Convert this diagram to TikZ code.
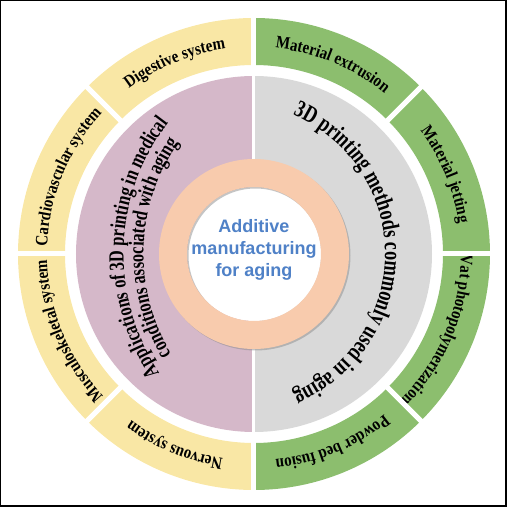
\documentclass[tikz,border=0pt]{standalone}
\usepackage{fontspec}
\setmainfont{Liberation Serif}
\setsansfont{Liberation Sans}
\newfontfamily\ringfont[FakeStretch=0.86]{Liberation Serif}
\newfontfamily\archfont[FakeStretch=0.76]{Liberation Serif}
\usetikzlibrary{decorations.text}
\definecolor{segyellow}{RGB}{249,231,165}
\definecolor{seggreen}{RGB}{140,190,110}
\definecolor{halfpurple}{RGB}{213,184,201}
\definecolor{halfgray}{RGB}{217,217,217}
\definecolor{ringorange}{RGB}{248,203,173}
\definecolor{titleblue}{RGB}{79,129,199}
\tikzset{
    curved/.style={decorate,decoration={text along path,text align=center,text={#1}}},
    title/.style={align=center,text=titleblue,font=\sffamily\bfseries\fontsize{18}{22}\selectfont}
}
\newcommand\segment[4]{
    \fill[#3] (#1:189) arc[start angle=#1,end angle=#2,radius=189]
        -- (#2:236) arc[start angle=#2,end angle=#1,radius=236] -- cycle;
    \path[curved={|\ringfont\bfseries\fontsize{17.5}{17.5}\selectfont|#4}]
        (#1:207) arc[start angle=#1,end angle=#2,radius=207];
}

\begin{document}
\begin{tikzpicture}[x=1pt,y=1pt]
    \useasboundingbox (-254,-254) rectangle (255,254);
    \draw[line width=1.2pt] (-253.4,253.4) rectangle (252,-252);

    \segment{135}{90}{segyellow}{Digestive system}
    \segment{180}{135}{segyellow}{Cardiovascular system}
    \segment{225}{180}{segyellow}{Musculoskeletal system}
    \segment{270}{225}{segyellow}{Nervous system}
    \segment{315}{270}{seggreen}{Powder bed fusion}
    \segment{360}{315}{seggreen}{Vat photopolymerization}
    \segment{45}{0}{seggreen}{Material jetting}
    \segment{90}{45}{seggreen}{Material extrusion}
    \foreach \a in {0,45,...,315}
        \draw[white,line width=5pt] (\a:185) -- (\a:240);

    \fill[halfpurple] (0,178) arc[start angle=90,end angle=270,radius=178] -- cycle;
    \fill[halfgray] (0,-178) arc[start angle=-90,end angle=90,radius=178] -- cycle;
    \draw[white,line width=3pt] (0,180) -- (0,-180);

    \path[shift={(84,0)},curved={|\archfont\bfseries\fontsize{21.5}{21.5}\selectfont|Applications of 3D printing in medical}]
        (232:214.5) arc[start angle=232,end angle=124,radius=214.5];
    \path[shift={(84,0)},curved={|\archfont\bfseries\fontsize{21.5}{21.5}\selectfont|conditions associated with aging}]
        (232:194.5) arc[start angle=232,end angle=124,radius=194.5];
    \path[shift={(-20,0)},curved={|\archfont\bfseries\fontsize{24}{24}\selectfont|3D printing methods commonly used in aging}]
        (82:151) arc[start angle=82,end angle=-82,radius=151];

    \fill[white] (0,0) circle[radius=67];
    \fill[black!45,opacity=.5,even odd rule] (1.5,-1.5) circle[radius=95] (1.5,-1.5) circle[radius=67];
    \fill[ringorange,even odd rule] (0,0) circle[radius=95] (0,0) circle[radius=67];
    \node[title] (title) at (0,4) {Additive\\manufacturing\\for aging};
\end{tikzpicture}
\end{document}
